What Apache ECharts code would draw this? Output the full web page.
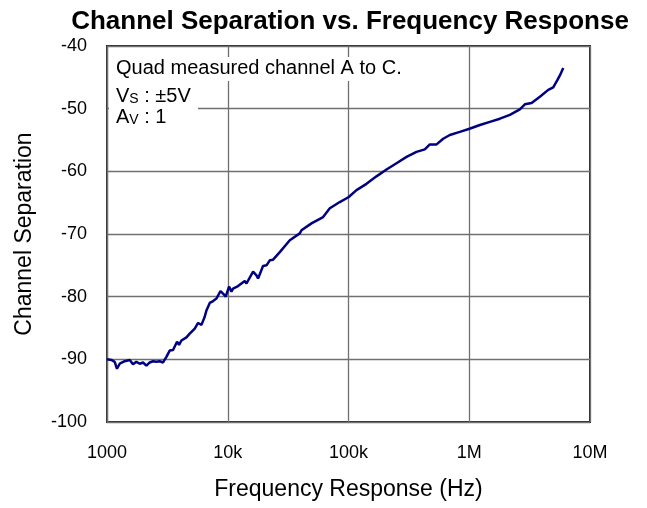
<!DOCTYPE html>
<html>
<head>
<meta charset="utf-8">
<title>Channel Separation vs. Frequency Response</title>
<script src="https://cdn.jsdelivr.net/npm/echarts@6/dist/echarts.min.js"></script>
<style>
  html, body { margin: 0; padding: 0; background: #fff; }
</style>
</head>
<body>
<div id="main" style="width: 647px;height:508px;"></div>
<script type="text/javascript">
// frequency (Hz) and channel separation (dB)
var freqHz = [1000, 1087, 1158, 1210, 1274, 1402, 1542, 1642, 1752, 1866, 1988, 2120, 2258, 2405, 2565, 2733, 2911,
  3105, 3306, 3522, 3802, 3951, 4132, 4548, 4842, 5330, 5679, 6056, 6446, 6662, 7096, 7560, 8060, 8703, 9141, 9620,
  10250, 10730, 11070, 12170, 13830, 14290, 16210, 17290, 17830, 19600, 20930, 22290, 23730, 26980, 32650, 39500,
  40800, 49360, 61620, 70000, 84700, 100500, 116400, 140900, 170500, 206400, 249800, 302400, 365600, 428500,
  471700, 536200, 608100, 690500, 835500, 1005000, 1225000, 1482000, 1793000, 2169000, 2624000, 2889000,
  3283000, 3846000, 4509000, 4958000, 5349000, 5632000, 6003000];
var separation = [-90.0, -90.1, -90.4, -91.5, -90.7, -90.3, -90.1, -90.8, -90.4, -90.7, -90.5, -91.0, -90.5, -90.3, -90.4, -90.3, -90.5,
  -89.6, -88.6, -88.5, -87.2, -87.7, -87.0, -86.5, -85.9, -85.1, -84.2, -84.5, -83.2, -82.2, -81.0, -80.7, -80.3, -79.1, -79.5, -80.0,
  -78.4, -79.2, -78.7, -78.3, -77.5, -77.9, -76.0, -76.6, -77.1, -75.1, -75.0, -74.2, -74.1, -72.9, -71.0, -69.9,
  -69.4, -68.3, -67.3, -65.9, -64.9, -64.1, -63.0, -62.0, -60.8, -59.7, -58.7, -57.7, -56.9, -56.5,
  -55.7, -55.7, -54.8, -54.2, -53.7, -53.2, -52.6, -52.1, -51.6, -51.0, -50.1, -49.3,
  -49.1, -48.1, -47.0, -46.6, -45.5, -44.7, -43.5];
var xTickValues = [1000, 10000, 100000, 1000000, 10000000];
var xTickLabels = ['1000', '10k', '100k', '1M', '10M'];
var noteLines = ['Quad measured channel A to C.', '{a|V}{b|S}{a| : ±5V}', '{a|A}{b|V}{a| : 1}'];

var points = [];
for (var i = 0; i < freqHz.length; i++) {
  points.push([freqHz[i], separation[i]]);
}

var myChart = echarts.init(document.getElementById('main'));
var font = '"Liberation Sans", Arial, sans-serif';
var richNote = {
  a: { fontSize: 20, fontFamily: font, color: '#000', lineHeight: 22, verticalAlign: 'bottom' },
  b: { fontSize: 14, fontFamily: font, color: '#000', lineHeight: 22, verticalAlign: 'bottom' }
};

var option = {
  animation: false,
  backgroundColor: '#fff',
  title: {
    text: 'Channel Separation vs. Frequency Response',
    left: 345,
    textAlign: 'center',
    top: 4,
    textStyle: { fontFamily: font, fontSize: 26, fontWeight: 'bold', color: '#000' }
  },
  grid: {
    left: 107, right: 57, top: 46, bottom: 86,
    show: true, borderColor: '#2a2a2a', borderWidth: 2, backgroundColor: '#fff'
  },
  xAxis: {
    type: 'log',
    logBase: 10,
    min: 1000,
    max: 10000000,
    name: 'Frequency Response (Hz)',
    nameLocation: 'middle',
    nameGap: 56,
    nameTextStyle: { fontFamily: font, fontSize: 23, color: '#000' },
    axisLine: { show: false },
    axisTick: { show: false },
    splitLine: { show: true, lineStyle: { color: '#707070', width: 1.3 } },
    minorSplitLine: { show: false },
    axisLabel: {
      margin: 22,
      fontFamily: font, fontSize: 18, color: '#000',
      formatter: function (v) {
        for (var k = 0; k < xTickValues.length; k++) {
          if (Math.abs(v - xTickValues[k]) < xTickValues[k] * 1e-6) return xTickLabels[k];
        }
        return '';
      }
    }
  },
  yAxis: {
    type: 'value',
    min: -100,
    max: -40,
    interval: 10,
    name: 'Channel Separation',
    nameLocation: 'middle',
    nameGap: 71,
    nameTextStyle: { fontFamily: font, fontSize: 23, color: '#000' },
    axisLine: { show: false },
    axisTick: { show: false },
    splitLine: { show: true, lineStyle: { color: '#707070', width: 1.3 } },
    axisLabel: { margin: 20, fontFamily: font, fontSize: 18, color: '#000' }
  },
  series: [{
    type: 'line',
    data: points,
    showSymbol: false,
    smooth: false,
    lineStyle: { color: '#000080', width: 2.5 },
    z: 3
  }],
  graphic: [
    { type: 'rect', shape: { x: 109, y: 57, width: 296, height: 24 }, style: { fill: '#fff' }, z: 50 },
    { type: 'rect', shape: { x: 109, y: 84, width: 89, height: 44 }, style: { fill: '#fff' }, z: 50 },
    { type: 'text', x: 116, y: 58, style: { text: noteLines[0], font: '20px ' + font, fill: '#000' }, z: 51 },
    { type: 'text', x: 116, y: 84, style: { text: noteLines[1], rich: richNote }, z: 51 },
    { type: 'text', x: 116, y: 105, style: { text: noteLines[2], rich: richNote }, z: 51 }
  ]
};

myChart.setOption(option);
</script>
</body>
</html>
